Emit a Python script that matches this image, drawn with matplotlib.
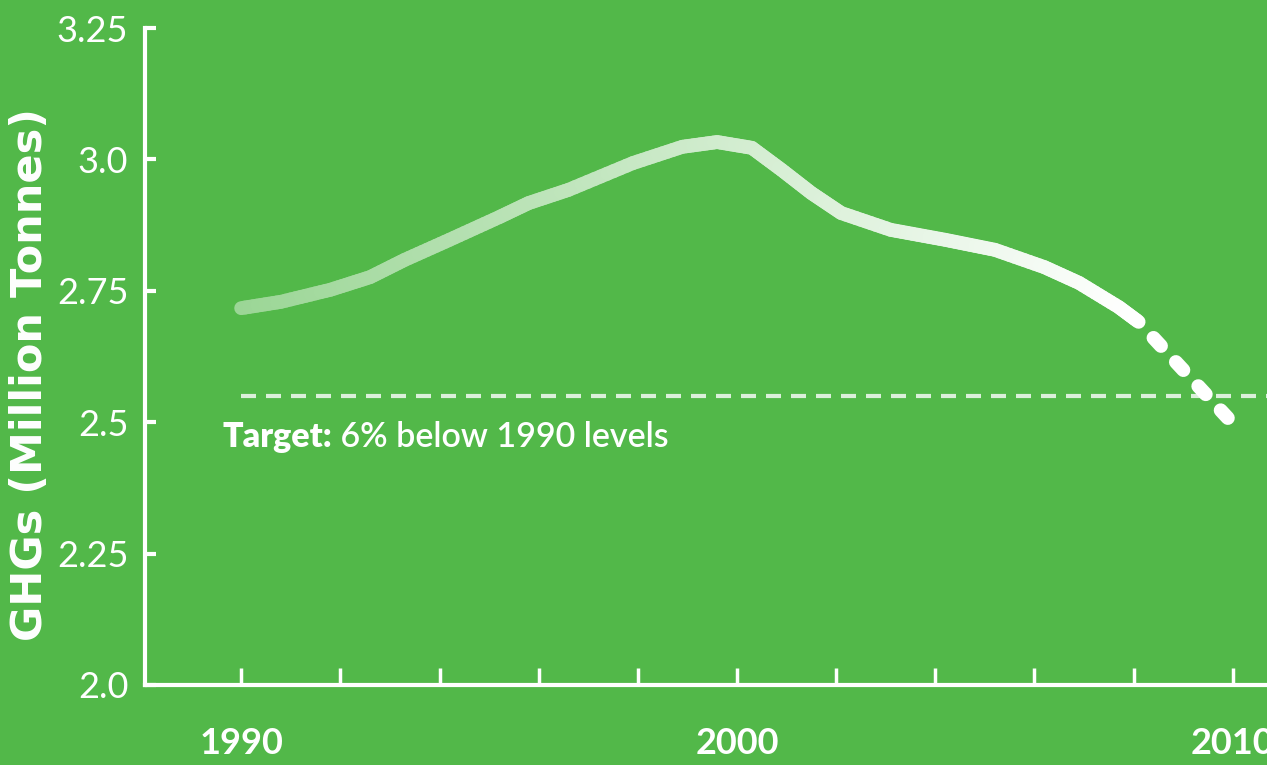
import numpy as np
import matplotlib
matplotlib.use('Agg')
import matplotlib.pyplot as plt
from matplotlib.collections import LineCollection
from matplotlib.colors import to_rgb

# === DATA ===
years = [1990.0, 1990.8, 1991.8, 1992.6, 1993.3, 1994.2, 1995.2, 1995.8,
         1996.6, 1997.9, 1998.9, 1999.6, 2000.3, 2000.9, 2001.5, 2002.1,
         2003.1, 2004.2, 2005.2, 2006.2, 2006.9, 2007.7, 2008.1]
ghg = [2.717, 2.729, 2.752, 2.776, 2.809, 2.847, 2.890, 2.917,
       2.942, 2.993, 3.024, 3.033, 3.022, 2.980, 2.936, 2.898,
       2.866, 2.847, 2.828, 2.795, 2.765, 2.719, 2.691]
proj_years = [2008.1, 2009.9]
proj_ghg = [2.691, 2.508]
target = 2.55
target_label = 'Target:'
target_rest = ' 6% below 1990 levels'
ytick_vals = [2.0, 2.25, 2.5, 2.75, 3.0, 3.25]
ytick_labels = ['2.0', '2.25', '2.5', '2.75', '3.0', '3.25']
xtick_vals = list(range(1990, 2011, 2))
xtick_labels = ['1990', '', '', '', '', '2000', '', '', '', '', '2010']

BG = '#52B849'
FG = 'white'

plt.rcParams['font.family'] = ['Lato', 'DejaVu Sans']

fig = plt.figure(figsize=(12.67, 7.65), dpi=100, facecolor=BG)
ax = fig.add_axes([145 / 1267, 80 / 765, 1122 / 1267, 657 / 765])
ax.set_facecolor(BG)

# gradient line: blend from pale green to white, left to right
bg_rgb = np.array(to_rgb(BG))
segs, cols = [], []
x0, x1 = years[0], years[-1]
for i in range(len(years) - 1):
    xa, xb, ya, yb = years[i], years[i + 1], ghg[i], ghg[i + 1]
    n = 10
    for k in range(n):
        t0, t1 = k / n, (k + 1) / n
        pa = (xa + (xb - xa) * t0, ya + (yb - ya) * t0)
        pb = (xa + (xb - xa) * t1, ya + (yb - ya) * t1)
        segs.append([pa, pb])
        a = 0.42 + 0.58 * ((pa[0] + pb[0]) / 2 - x0) / (x1 - x0)
        cols.append(bg_rgb * (1 - a) + np.ones(3) * a)
lc = LineCollection(segs, colors=cols, linewidths=10, capstyle='round',
                    joinstyle='round', zorder=3)
ax.add_collection(lc)

# projected part, dashed
ax.plot(proj_years, proj_ghg, color=FG, lw=10,
        linestyle=(0.79, (0.79, 1.58)), dash_capstyle='round', zorder=3)

# target line
ax.plot([1990, 2011], [target, target], color=FG, alpha=0.8, lw=3,
        linestyle=(0, (3.6, 2.4)), zorder=2)
t1 = ax.text(1989.62, 2.453, target_label, color=FG, fontsize=24.5,
             fontweight='heavy', va='baseline', ha='left')
ax.annotate(target_rest, xy=(1, 0), xycoords=t1, va='bottom', ha='left',
            color=FG, fontsize=24.5, fontweight='semibold')

# axes styling
ax.set_xlim(1988.06, 2010.69)
ax.set_ylim(2.0, 3.25)
for s in ['top', 'right']:
    ax.spines[s].set_visible(False)
for s in ['left', 'bottom']:
    ax.spines[s].set_color(FG)
    ax.spines[s].set_linewidth(3)
ax.set_yticks(ytick_vals)
ax.set_yticklabels(ytick_labels, fontsize=26, fontweight='normal', color=FG)
ax.set_xticks(xtick_vals)
ax.set_xticklabels(xtick_labels, fontsize=26, fontweight='bold', color=FG)
ax.tick_params(axis='y', direction='in', length=8, width=3, color=FG, pad=12)
ax.tick_params(axis='x', direction='in', length=12, width=2.5, color=FG, pad=30)

ax.set_ylabel('GHGs (Million Tonnes)', fontsize=31, fontweight='bold',
              color=FG, family='DejaVu Sans')
ax.yaxis.set_label_coords(-0.084, 0.472)

fig.savefig('out.png', dpi=100, facecolor=BG)
